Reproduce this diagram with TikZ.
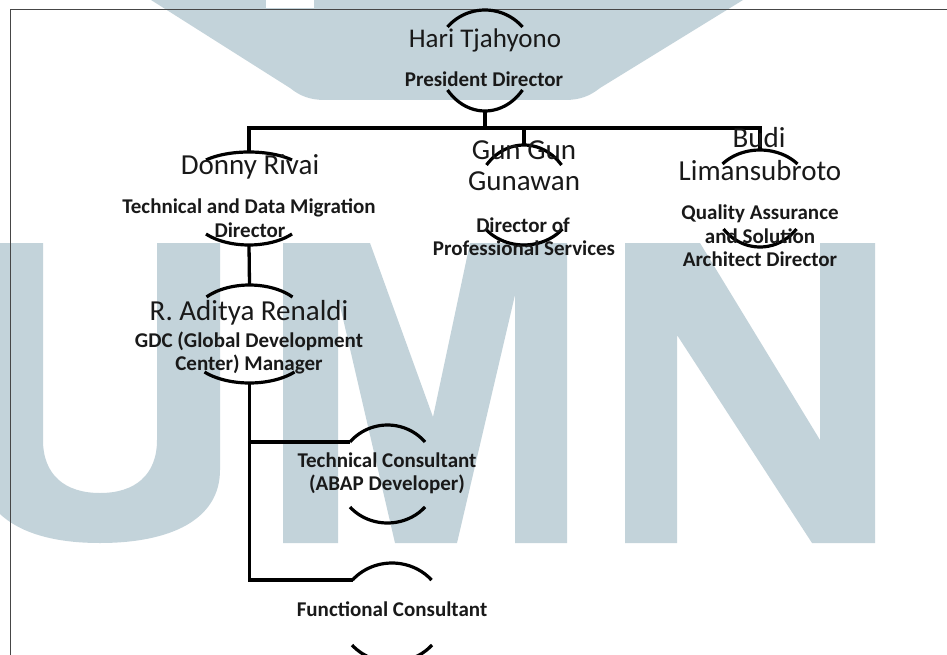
\documentclass[tikz,border=0pt]{standalone}
\usepackage{fontspec}
\setmainfont{Carlito}
\usetikzlibrary{shapes.geometric}
\definecolor{wmblue}{RGB}{195,211,218}
\definecolor{framegray}{RGB}{70,70,70}
\newcommand\capArc[3]{%
  \pgfmathsetmacro\arcRx{#2/sin(50)}%
  \pgfmathsetmacro\arcRy{#3/(1-cos(50))}%
  \draw[arcline] (#1) ++(-#2,-#3) arc[start angle=140, end angle=40, x radius=\arcRx pt, y radius=\arcRy pt];}
\newcommand\cupArc[3]{%
  \pgfmathsetmacro\arcRx{#2/sin(50)}%
  \pgfmathsetmacro\arcRy{#3/(1-cos(50))}%
  \draw[arcline] (#1) ++(-#2,#3) arc[start angle=220, end angle=320, x radius=\arcRx pt, y radius=\arcRy pt];}
\begin{document}
\begin{tikzpicture}[x=1pt,y=1pt,
  wm/.style={fill=wmblue, draw=none},
  person/.style={ellipse, draw=none, inner sep=0pt, outer sep=0pt},
  arcline/.style={line width=3.2pt, line cap=butt, black},
  conn/.style={line width=3.3pt, line join=miter, black},
  namet/.style={font=\fontsize{29}{31}\selectfont, inner sep=0pt, anchor=base, text=black!90},
  titlet/.style={font=\fontsize{21}{23}\selectfont\bfseries, inner sep=0pt, anchor=base, text=black!90}]
\useasboundingbox (0,0) rectangle (947,-655);
% watermark
\begin{scope}
\clip (0,0) rectangle (947,-655);
\fill[wm] (148,5) -- (746,5) -- (743,0) -- (600,-88) .. controls (590,-96) and (580,-100) .. (565,-100) -- (325,-100) .. controls (310,-100) and (300,-96) .. (290,-88) -- (151,0) -- cycle;
\fill[white] (266,0) rectangle (314,-8);
\fill[wm] (-25,-243) -- (-25,-450) .. controls (-25,-520) and (30,-543) .. (100,-543) .. controls (170,-543) and (220,-520) .. (220,-470) -- (220,-243) -- (157,-243) -- (157,-440) .. controls (157,-475) and (135,-493) .. (100,-493) .. controls (65,-493) and (43,-475) .. (43,-440) -- (43,-243) -- cycle;
\fill[wm] (283,-243) -- (370,-243) -- (433,-417) -- (470,-243) -- (567,-243) -- (567,-543) -- (515,-543) -- (515,-295) -- (457,-543) -- (395,-543) -- (338,-297) -- (338,-543) -- (283,-543) -- cycle;
\fill[wm] (625,-243) -- (700,-243) -- (820,-440) -- (820,-243) -- (875,-243) -- (875,-543) -- (812,-543) -- (677,-335) -- (677,-543) -- (625,-543) -- cycle;
\end{scope}
% frame
\draw[framegray, line width=1pt] (10,-660) -- (10,-10) -- (952,-10);
% person shapes
\node[person, minimum width=92pt, minimum height=101pt] (hari) at (485,-60.5) {};
\node[person, minimum width=100pt, minimum height=93pt] (donny) at (249,-198.5) {};
\node[person, minimum width=100pt, minimum height=98pt] (aditya) at (249.5,-334) {};
\node[person, minimum width=92pt, minimum height=100pt] (gungun) at (524,-195) {};
\node[person, minimum width=92pt, minimum height=97pt] (budi) at (760,-198.5) {};
\node[person, minimum width=92pt, minimum height=98pt] (tech) at (387.5,-474) {};
\node[person, minimum width=92pt, minimum height=99pt] (func) at (392,-612.5) {};
% arcs
\capArc{hari.north}{37.5}{17} \cupArc{hari.south}{37.5}{21}
\capArc{donny.north}{43}{8} \cupArc{donny.south}{43}{11}
\capArc{aditya.north}{43}{12} \cupArc{aditya.south}{45}{11}
\capArc{gungun.north}{37.5}{20} \cupArc{gungun.south}{38.5}{16}
\capArc{budi.north}{37.5}{14} \cupArc{budi.south}{36.5}{18}
\capArc{tech.north}{37.5}{17} \cupArc{tech.south}{37.5}{16}
\capArc{func.north}{39.5}{17} \cupArc{func.south}{40}{17}
% connectors
\coordinate (bar) at (485,-128);
\draw[conn] (hari.south) -- (bar);
\draw[conn] (donny.north) |- (bar) -| (budi.north);
\draw[conn] (gungun.north) -- (gungun.north |- bar);
\draw[conn] (donny.south) -- (aditya.north);
\coordinate (techL) at ([shift={(-37.5,-17)}]tech.north);
\coordinate (funcL) at ([shift={(-39.5,-17)}]func.north);
\draw[conn] (aditya.south) |- (techL);
\draw[conn] (aditya.south) |- (funcL);
% texts
\node[namet, font=\fontsize{27}{29}\selectfont] (t1) at (485,-48) {Hari Tjahyono};
\node[titlet] (t2) at (484,-87) {President Director};
\node[namet] (t3) at (250,-175) {Donny Rivai};
\node[titlet] (t4) at (249,-214) {Technical and Data Migration};
\node[titlet] (t5) at (250,-237) {Director};
\node[namet] (t6) at (249,-320) {R. Aditya Renaldi};
\node[titlet] (t7) at (249,-347) {GDC (Global Development};
\node[titlet] (t8) at (249,-370) {Center) Manager};
\node[namet] (t9) at (524,-160) {Gun Gun};
\node[namet] (t10) at (524,-190) {Gunawan};
\node[titlet] (t11) at (523,-232) {Director of};
\node[titlet] (t12) at (524,-255) {Professional Services};
\node[namet] (t13) at (759,-148) {Budi};
\node[namet] (t14) at (760,-181) {Limansubroto};
\node[titlet] (t15) at (760,-219.5) {Quality Assurance};
\node[titlet] (t16) at (760,-243) {and Solution};
\node[titlet] (t17) at (760,-266) {Architect Director};
\node[titlet] (t18) at (387,-467) {Technical Consultant};
\node[titlet] (t19) at (387,-490) {(ABAP Developer)};
\node[titlet] (t20) at (392,-616) {Functional Consultant};
\end{tikzpicture}
\end{document}
